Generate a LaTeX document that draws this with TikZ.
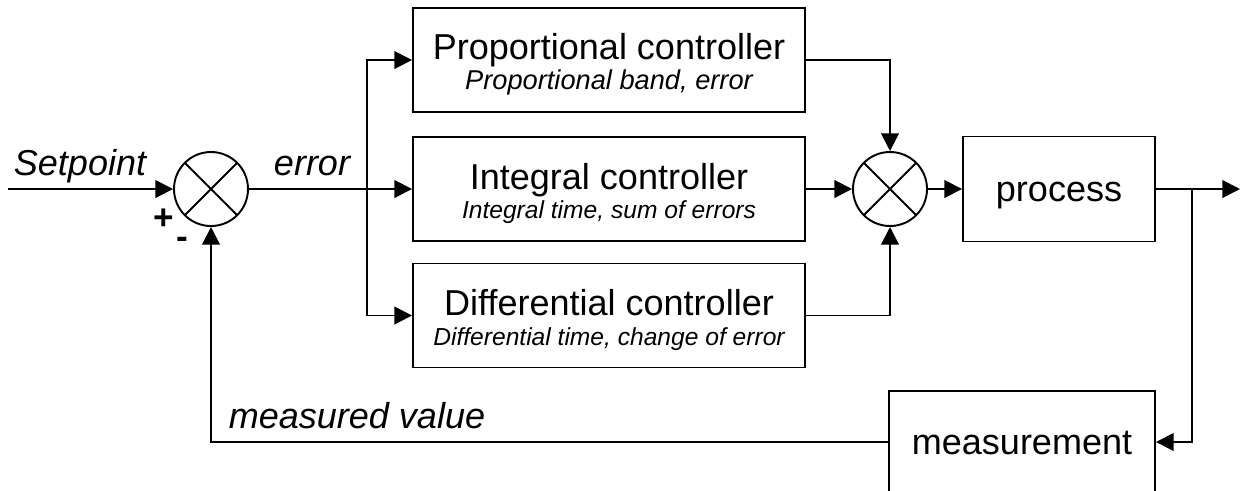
\documentclass[tikz,border=0pt]{standalone}
\usepackage{fontspec}
\setmainfont{Liberation Sans}
\usetikzlibrary{arrows.meta}
\tikzset{every node/.append style={align=center}}
\newcommand{\mainsize}{\fontsize{20.5}{17}\selectfont}
\newcommand{\subsize}{\fontsize{14}{17}\selectfont\itshape}
\newcommand{\topstrut}{\rule{0pt}{20pt}}

\begin{document}
\begin{tikzpicture}[line width=1.1pt,
  >={Triangle[length=10pt,width=10pt]},
  block/.style={draw, minimum width=7.84cm, minimum height=2.08cm,
    inner sep=0pt, font=\mainsize},
  single/.style={block, text height=18pt, text depth=3.6pt},
  summer/.style={draw, circle, minimum size=1.48cm, inner sep=0pt,
    path picture={\draw
      (path picture bounding box.north west) -- (path picture bounding box.south east)
      (path picture bounding box.south west) -- (path picture bounding box.north east);}},
  sigtext/.style={font=\mainsize\itshape, anchor=base}]

  \useasboundingbox (0,0) rectangle (24.92,-9.8);

  % Summing points
  \node[summer] (sum1) at (4.22,-3.78) {};
  \node[summer] (sum2) at (17.8,-3.78) {};

  % Controller blocks
  \node[block] (prop) at (12.18,-1.2)
    {\topstrut Proportional controller\\{\fontsize{15.5}{17}\selectfont\itshape Proportional band, error}};
  \node[block] (integ) at (12.18,-3.78)
    {\topstrut Integral controller\\{\subsize Integral time, sum of errors}};
  \node[block] (diff) at (12.18,-6.31)
    {\topstrut Differential controller\\{\subsize Differential time, change of error}};

  % Process and measurement
  \node[single, minimum width=3.84cm, minimum height=2.1cm] (proc) at (21.18,-3.78)
    {process};
  \node[single, minimum width=5.32cm, minimum height=2.04cm] (meas) at (20.44,-8.84)
    {measurement};

  % Signal labels
  \node[sigtext] (setp) at (1.6,-3.5) {Setpoint};
  \node[sigtext] (err) at (6.24,-3.5) {error};
  \node[sigtext, anchor=base west] (measval) at (4.44,-8.56) {measured value};
  \node[font=\fontsize{20}{20}\selectfont\bfseries] (plus) at (3.28,-4.38) {+};
  \node[font=\fontsize{20}{20}\selectfont\bfseries] (minus) at (3.64,-4.86) {-};

  % Input and branching
  \coordinate (input) at (0.16,-3.78);
  \coordinate (branch) at (7.34,-3.78);
  \draw[->] (input) -- (sum1.west);
  \draw[->] (sum1.east) -- (integ.west);
  \draw[->] (branch) |- (prop.west);
  \draw[->] (branch) |- (diff.west);

  % Controller outputs
  \draw[->] (prop.east) -| (sum2.north);
  \draw[->] (integ.east) -- (sum2.west);
  \draw[->] (diff.east) -| (sum2.south);
  \draw[->] (sum2.east) -- (proc.west);

  % Output and feedback
  \coordinate (output) at (24.8,-3.78);
  \coordinate (tap) at (23.84,-3.78);
  \draw[->] (proc.east) -- (output);
  \draw[->] (tap) |- (meas.east);
  \draw[->] (meas.west) -| (sum1.south);

\end{tikzpicture}
\end{document}
